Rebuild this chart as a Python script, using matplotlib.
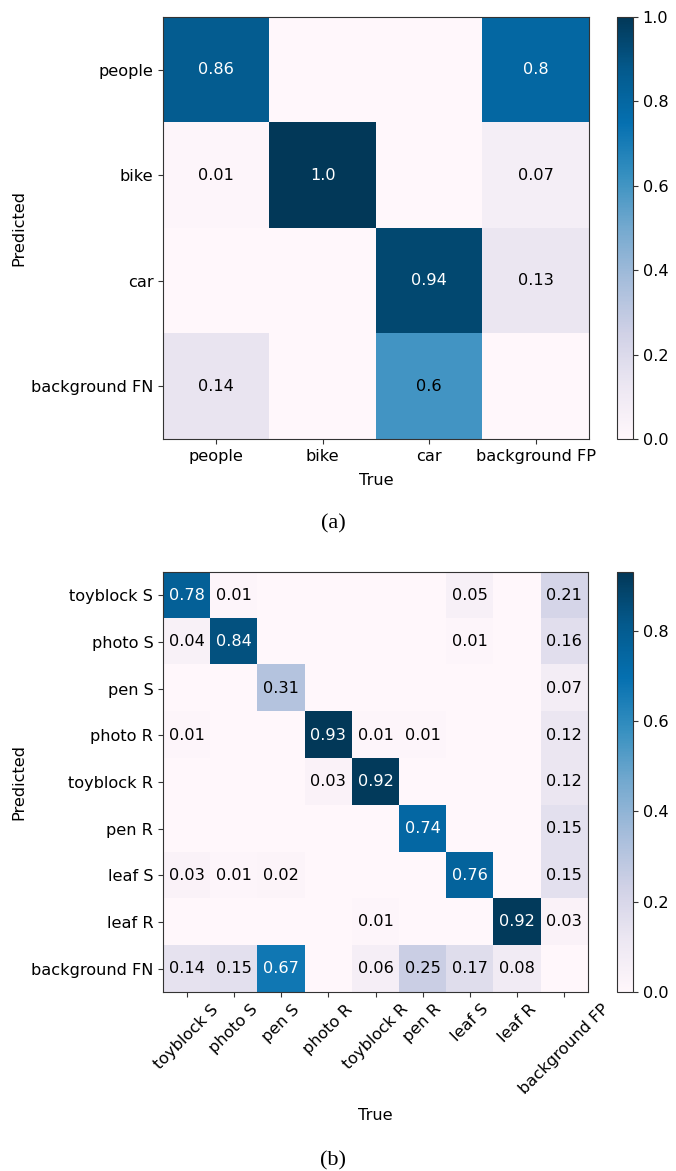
import numpy as np
import matplotlib
matplotlib.use("Agg")
import matplotlib.pyplot as plt

# ---- data (a) ----
true_a = ["people", "bike", "car", "background FP"]
pred_a = ["people", "bike", "car", "background FN"]
cm_a = [
    [0.86, 0.00, 0.00, 0.80],
    [0.01, 1.00, 0.00, 0.07],
    [0.00, 0.00, 0.94, 0.13],
    [0.14, 0.00, 0.60, 0.00],
]

# ---- data (b) ----
true_b = ["toyblock S", "photo S", "pen S", "photo R", "toyblock R",
          "pen R", "leaf S", "leaf R", "background FP"]
pred_b = ["toyblock S", "photo S", "pen S", "photo R", "toyblock R",
          "pen R", "leaf S", "leaf R", "background FN"]
cm_b = [
    [0.78, 0.01, 0.00, 0.00, 0.00, 0.00, 0.05, 0.00, 0.21],
    [0.04, 0.84, 0.00, 0.00, 0.00, 0.00, 0.01, 0.00, 0.16],
    [0.00, 0.00, 0.31, 0.00, 0.00, 0.00, 0.00, 0.00, 0.07],
    [0.01, 0.00, 0.00, 0.93, 0.01, 0.01, 0.00, 0.00, 0.12],
    [0.00, 0.00, 0.00, 0.03, 0.92, 0.00, 0.00, 0.00, 0.12],
    [0.00, 0.00, 0.00, 0.00, 0.00, 0.74, 0.00, 0.00, 0.15],
    [0.03, 0.01, 0.02, 0.00, 0.00, 0.00, 0.76, 0.00, 0.15],
    [0.00, 0.00, 0.00, 0.00, 0.01, 0.00, 0.00, 0.92, 0.03],
    [0.14, 0.15, 0.67, 0.00, 0.06, 0.25, 0.17, 0.08, 0.00],
]

FS = 11.6
EDGE = "#333333"
W, H = 676, 1171
fig = plt.figure(figsize=(W / 100, H / 100), dpi=100)
plt.rcParams['font.family'] = ['DejaVu Sans']


def px(l, t, r, b):
    return [l / W, 1 - b / H, (r - l) / W, (b - t) / H]


def draw(ax, cax, cm, xl, yl, vmax, rot, xpad):
    arr = np.array(cm, dtype=float)
    im = ax.imshow(arr, cmap="PuBu", vmin=0.0, vmax=vmax, aspect="auto",
                   interpolation="nearest")
    n_r, n_c = arr.shape
    for i in range(n_r):
        for j in range(n_c):
            v = arr[i, j]
            if v <= 0:
                continue
            col = "white" if v / vmax > 0.65 else "black"
            ax.text(j, i, str(round(v, 2)), ha="center", va="center",
                    color=col, fontsize=FS)
    ax.set_xticks(range(n_c))
    ax.set_yticks(range(n_r))
    if rot:
        ax.set_xticklabels(xl, rotation=45, ha="center", fontsize=FS)
    else:
        ax.set_xticklabels(xl, fontsize=FS)
    ax.set_yticklabels(yl, fontsize=FS)
    ax.set_xlabel("True", fontsize=FS, labelpad=xpad)
    ax.set_ylabel("Predicted", fontsize=FS, labelpad=3)
    for s in ax.spines.values():
        s.set_edgecolor(EDGE)
    ax.tick_params(color=EDGE)
    cb = fig.colorbar(im, cax=cax)
    cb.ax.tick_params(labelsize=FS, color=EDGE)
    cb.outline.set_edgecolor(EDGE)
    cb.set_ticks([0.0, 0.2, 0.4, 0.6, 0.8] + ([1.0] if vmax >= 1 else []))
    return cb


ax1 = fig.add_axes(px(163, 17, 589, 439))
cax1 = fig.add_axes(px(617, 17, 633, 439))
draw(ax1, cax1, cm_a, true_a, pred_a, 1.0, False, 6.5)

ax2 = fig.add_axes(px(163, 572, 588, 992))
cax2 = fig.add_axes(px(617, 572, 633, 992))
vmax_b = float(np.max(cm_b))
draw(ax2, cax2, cm_b, true_b, pred_b, vmax_b, True, 7.5)

fig.text(333 / W, 1 - 524 / H, "(a)", ha="center", va="center",
         fontsize=16, family="Liberation Serif")
fig.text(333 / W, 1 - 1161 / H, "(b)", ha="center", va="center",
         fontsize=16, family="Liberation Serif")

fig.savefig("out.png", dpi=100, facecolor="white")
